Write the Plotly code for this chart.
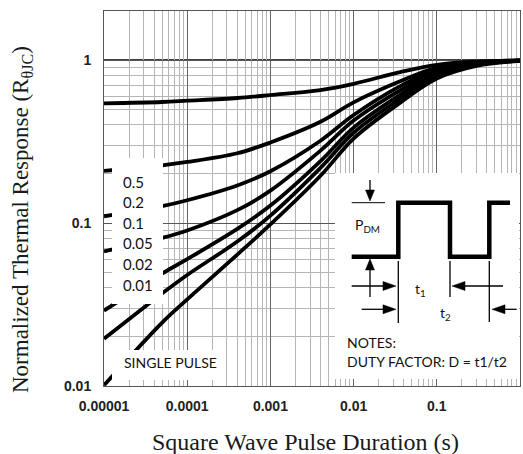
import plotly.graph_objects as go

# ---- data ----
pulse_duration = [1e-5, 5e-5, 1e-4, 4e-4, 1e-3, 4e-3, 1e-2, 3.5e-2, 1e-1, 3e-1, 1]
duty_labels = ["0.5", "0.2", "0.1", "0.05", "0.02", "0.01", "SINGLE PULSE"]
z_d050 = [0.543, 0.553, 0.563, 0.585, 0.610, 0.655, 0.715, 0.840, 0.935, 0.980, 0.995]
z_d020 = [0.209, 0.226, 0.237, 0.268, 0.312, 0.418, 0.550, 0.735, 0.900, 0.970, 0.995]
z_d010 = [0.110, 0.127, 0.138, 0.170, 0.208, 0.320, 0.460, 0.685, 0.875, 0.962, 0.993]
z_d005 = [0.067, 0.081, 0.090, 0.120, 0.158, 0.278, 0.425, 0.645, 0.855, 0.955, 0.992]
z_d002 = [0.029, 0.049, 0.060, 0.092, 0.128, 0.240, 0.385, 0.605, 0.830, 0.945, 0.990]
z_d001 = [0.0195, 0.037, 0.048, 0.077, 0.111, 0.218, 0.358, 0.572, 0.800, 0.935, 0.990]
z_single = [0.0101, 0.0245, 0.034, 0.064, 0.098, 0.195, 0.330, 0.540, 0.770, 0.920, 0.988]
series = [z_d050, z_d020, z_d010, z_d005, z_d002, z_d001, z_single]

x_tickvals = [1e-5, 1e-4, 1e-3, 1e-2, 1e-1, 1]
x_ticktext = ["0.00001", "0.0001", "0.001", "0.01", "0.1", "1"]
y_tickvals = [0.01, 0.1, 1]
y_ticktext = ["0.01", "0.1", "1"]

# ---- layout geometry (pixels) ----
W, H = 523, 454
L, R, T, B = 104, 520, 11, 386


def fx(px):
    return (px - L) / (R - L)


def fy(py):
    return (B - py) / (B - T)


fig = go.Figure()
for ys, name in zip(series, duty_labels):
    fig.add_trace(go.Scatter(x=pulse_duration, y=ys, mode="lines", name=name,
                             line=dict(color="black", width=3.8, shape="spline", smoothing=1.0),
                             hoverinfo="skip", showlegend=False))

minor_x = [m * 10 ** e for e in range(-5, 0) for m in range(2, 10)]
minor_y = [m * 10 ** e for e in range(-2, 0) for m in range(2, 10)] + [2]

shapes = []
annots = []


def rect(x0, y0, x1, y1):
    shapes.append(dict(type="rect", xref="paper", yref="paper", x0=fx(x0), x1=fx(x1),
                       y0=fy(y1), y1=fy(y0), fillcolor="white", line=dict(width=0), layer="above"))


def seg(pts, width=1.3, color="black"):
    path = "M" + " L".join(f"{fx(a):.5f},{fy(b):.5f}" for a, b in pts)
    shapes.append(dict(type="path", xref="paper", yref="paper", path=path,
                       line=dict(color=color, width=width), layer="above"))


def tri(tip, direction, length=11, half=4.5):
    tx, ty = tip
    if direction == "down":
        pts = [(tx, ty), (tx - half, ty - length), (tx + half, ty - length)]
    elif direction == "up":
        pts = [(tx, ty), (tx - half, ty + length), (tx + half, ty + length)]
    elif direction == "right":
        pts = [(tx, ty), (tx - length, ty - half), (tx - length, ty + half)]
    else:
        pts = [(tx, ty), (tx + length, ty - half), (tx + length, ty + half)]
    path = "M" + " L".join(f"{fx(a):.5f},{fy(b):.5f}" for a, b in pts) + " Z"
    shapes.append(dict(type="path", xref="paper", yref="paper", path=path,
                       fillcolor="black", line=dict(color="black", width=0.5), layer="above"))


# white label backgrounds
rect(112, 158, 163, 304)
rect(112, 350, 222, 380)
rect(335, 173, 519, 379)

# y = 1 emphasized line
shapes.append(dict(type="line", xref="paper", yref="paper", x0=0, x1=1, y0=fy(60), y1=fy(60),
                   line=dict(color="black", width=1.4), layer="below"))

# waveform diagram
seg([(351.7, 256.7), (398.3, 256.7), (398.3, 202.7), (450, 202.7), (450, 256.7),
     (489.3, 256.7), (489.3, 202.7), (510, 202.7)], width=4.5)
seg([(351.7, 202.7), (385, 202.7)], width=1)
seg([(370, 180), (370, 192)], width=1.3)
tri((370, 201), "down")
seg([(370, 268), (370, 297)], width=1.3)
tri((370, 259), "up")
seg([(398.3, 261), (398.3, 323)], width=1.3)
seg([(450, 261), (450, 297)], width=1.3)
seg([(489.3, 261), (489.3, 322)], width=1.3)
seg([(351.7, 286), (385, 286)], width=1.3)
tri((396, 286), "right", length=13)
seg([(503, 286), (465, 286)], width=1.3)
tri((452, 286), "left", length=13)
seg([(361.7, 309.3), (385, 309.3)], width=1.3)
tri((396, 309.3), "right", length=13)
seg([(516.7, 309.3), (505, 309.3)], width=1.3)
tri((492, 309.3), "left", length=13)

lab_font = dict(family="Lato, Noto Sans, sans-serif", size=14, color="#111")


def text(px, py, s, size=14, anchor="left"):
    annots.append(dict(xref="paper", yref="paper", x=fx(px), y=fy(py), text=s, showarrow=False,
                       xanchor=anchor, yanchor="middle", font=dict(lab_font, size=size)))


label_y = [181.7, 201.7, 222.7, 243.3, 264.3, 285]
for s, yy in zip(duty_labels[:6], label_y):
    text(121, yy, s, size=15)
text(122, 362.3, duty_labels[6], size=14)

text(353, 225, "P<sub>DM</sub>", size=14)
text(413, 289, "t<sub>1</sub>", size=14)
text(438, 313, "t<sub>2</sub>", size=14)
text(345, 342.7, "NOTES:", size=14)
text(345, 361.7, "DUTY FACTOR: D = t1/t2", size=14)

# axis titles
annots.append(dict(xref="paper", yref="paper", x=fx(22), y=fy(220), textangle=-90,
                   text="Normalized Thermal Response (R<sub>θJC</sub>)", showarrow=False,
                   xanchor="center", yanchor="middle",
                   font=dict(family="Liberation Serif, Times New Roman, serif", size=23, color="#1a1a1a")))
annots.append(dict(xref="paper", yref="paper", x=fx(305), y=fy(442),
                   text="Square Wave Pulse Duration (s)", showarrow=False,
                   xanchor="center", yanchor="middle",
                   font=dict(family="Liberation Serif, Times New Roman, serif", size=24, color="#1a1a1a")))

tick_font = dict(family="Liberation Sans, Arial, sans-serif", size=14, color="#222", weight="bold")

fig.update_layout(
    width=W, height=H,
    margin=dict(l=L, r=W - R, t=T, b=H - B),
    paper_bgcolor="white", plot_bgcolor="white",
    shapes=shapes, annotations=annots,
    xaxis=dict(type="log", range=[-5, 0], tickmode="array", tickvals=x_tickvals, ticktext=x_ticktext,
               showgrid=True, gridcolor="#666", gridwidth=1,
               ticks="outside", ticklen=7, tickcolor="rgba(0,0,0,0)",
               tickfont=tick_font, showline=True, linecolor="#555", linewidth=1, mirror=True,
               minor=dict(tickmode="array", tickvals=minor_x, showgrid=True, gridcolor="#b5b5b5",
                          gridwidth=1, ticks="")),
    yaxis=dict(type="log", range=[-2, 0.30103], tickmode="array", tickvals=y_tickvals, ticktext=y_ticktext,
               showgrid=True, gridcolor="#555", gridwidth=1,
               ticks="outside", ticklen=9, tickcolor="rgba(0,0,0,0)",
               tickfont=tick_font, showline=True, linecolor="#555", linewidth=1, mirror=True,
               minor=dict(tickmode="array", tickvals=minor_y, showgrid=True, gridcolor="#b5b5b5",
                          gridwidth=1, ticks="")),
)

fig.write_html("out.html", config={"displayModeBar": False},
               post_script="document.body.style.margin='0px';")
